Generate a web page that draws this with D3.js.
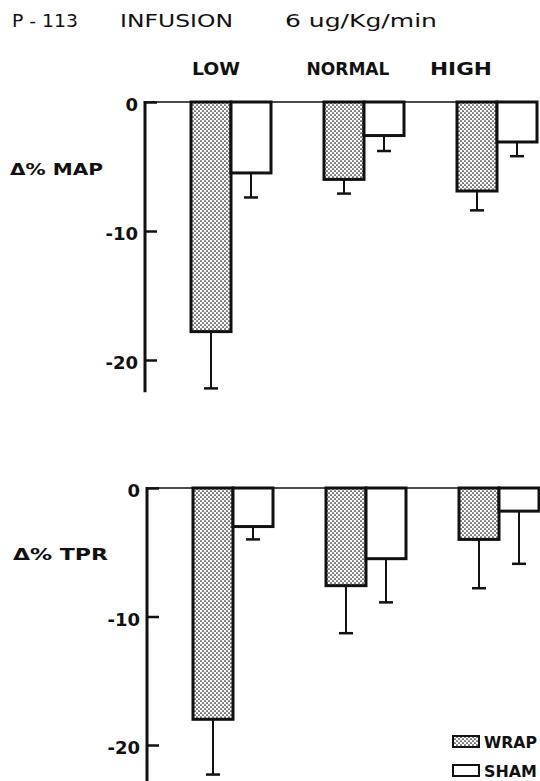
<!DOCTYPE html>
<html>
<head>
<meta charset="utf-8">
<script src="https://cdn.jsdelivr.net/npm/d3@7/dist/d3.min.js"></script>
<style>
  html, body { margin: 0; padding: 0; background: #fff; }
  svg { display: block; }
  text { font-family: "DejaVu Sans", Verdana, sans-serif; fill: #111; }
</style>
</head>
<body>
<svg id="chart" width="540" height="781"></svg>
<script>
// Conditions and groups
const categories = ["LOW", "NORMAL", "HIGH"];
const groups = ["WRAP", "SHAM"];
const yTicks = [0, -10, -20];

// Δ% mean arterial pressure (mean and SE)
const mapWrap = [-17.8, -6.0, -6.9];
const mapWrapSE = [4.4, 1.1, 1.5];
const mapSham = [-5.5, -2.6, -3.1];
const mapShamSE = [1.9, 1.2, 1.1];

// Δ% total peripheral resistance (mean and SE)
const tprWrap = [-18.0, -7.6, -4.0];
const tprWrapSE = [4.3, 3.7, 3.8];
const tprSham = [-3.0, -5.5, -1.8];
const tprShamSE = [1.0, 3.4, 4.1];

const svg = d3.select("#chart");

// Lettering is wide; stretch each label horizontally to its set width.
function wideText(parent, str, x, y, width, opts = {}) {
  const g = parent.append("g");
  const t = g.append("text")
    .attr("x", 0).attr("y", 0)
    .attr("font-size", opts.size || 16)
    .attr("font-weight", opts.weight || "normal")
    .text(str);
  const w0 = t.node().getComputedTextLength();
  const sx = width / w0;
  const left = opts.anchor === "middle" ? x - width / 2 : x;
  g.attr("transform", `translate(${left},${y}) scale(${sx},1)`);
  return g;
}

// stippled fill used for WRAP bars
const defs = svg.append("defs");
const pat = defs.append("pattern")
  .attr("id", "stipple")
  .attr("patternUnits", "userSpaceOnUse")
  .attr("width", 4).attr("height", 4);
pat.append("rect").attr("width", 4).attr("height", 4).attr("fill", "#fff");
pat.append("circle").attr("cx", 1).attr("cy", 1).attr("r", 0.85).attr("fill", "#111");
pat.append("circle").attr("cx", 3).attr("cy", 3).attr("r", 0.85).attr("fill", "#111");

// title
const title = svg.append("g").attr("class", "title");
[["P - 113", 12, 66], ["INFUSION", 120, 113], ["6 ug/Kg/min", 285, 152]].forEach(([t, x, w]) => {
  wideText(title, t, x, 27, w, { size: 18.5 });
});

// condition labels
const catLabelCenter = { LOW: 216, NORMAL: 348, HIGH: 461 };
const catLabelWidth = { LOW: 48, NORMAL: 83, HIGH: 62 };
const catG = svg.append("g");
categories.forEach(c => {
  wideText(catG, c, catLabelCenter[c], 75, catLabelWidth[c], { size: 17, weight: "bold", anchor: "middle" });
});

function panel(cfg) {
  const g = svg.append("g");
  const y = d3.scaleLinear().domain([0, -20]).range([cfg.y0, cfg.y20]);
  const x = d3.scaleBand().domain(categories).range([cfg.xStart, cfg.xStart + 3 * 133]);
  const xs = d3.scaleBand().domain(groups).range([0, 80]);

  const rows = categories.map((c, i) => [
    { cat: c, grp: "WRAP", v: cfg.wrap[i], se: cfg.wrapSE[i] },
    { cat: c, grp: "SHAM", v: cfg.sham[i], se: cfg.shamSE[i] }
  ]).flat();

  // error bars (drawn below the bars)
  const eb = g.append("g").attr("stroke", "#111").attr("stroke-width", 2);
  rows.forEach(d => {
    const cx = x(d.cat) + xs(d.grp) + xs.bandwidth() / 2;
    eb.append("line")
      .attr("x1", cx).attr("x2", cx)
      .attr("y1", y(d.v)).attr("y2", y(d.v - d.se));
    eb.append("line")
      .attr("x1", cx - 7).attr("x2", cx + 7)
      .attr("y1", y(d.v - d.se)).attr("y2", y(d.v - d.se))
      .attr("stroke-width", 2.5);
  });

  // bars
  g.append("g").selectAll("rect").data(rows).join("rect")
    .attr("x", d => x(d.cat) + xs(d.grp))
    .attr("y", y(0))
    .attr("width", xs.bandwidth())
    .attr("height", d => y(d.v) - y(0))
    .attr("fill", d => d.grp === "WRAP" ? "url(#stipple)" : "#fff")
    .attr("stroke", "#111")
    .attr("stroke-width", 3);

  // zero reference line
  g.append("line")
    .attr("x1", cfg.axisX).attr("x2", cfg.zeroEnd)
    .attr("y1", y(0)).attr("y2", y(0))
    .attr("stroke", "#111").attr("stroke-width", 1.6);

  // y axis with inward ticks
  const axis = d3.axisRight(y).tickValues(yTicks).tickSize(12).tickFormat("");
  const ag = g.append("g").attr("transform", `translate(${cfg.axisX},0)`).call(axis);
  ag.select(".domain").remove();
  ag.selectAll(".tick line").attr("stroke", "#111").attr("stroke-width", 2.5);
  g.append("line")
    .attr("x1", cfg.axisX).attr("x2", cfg.axisX)
    .attr("y1", y(0) - 1).attr("y2", y(cfg.axisBottom))
    .attr("stroke", "#111").attr("stroke-width", 3);

  // tick labels
  g.append("g").selectAll("text").data(yTicks).join("text")
    .attr("x", cfg.axisX - 7)
    .attr("y", d => y(d) + 3)
    .attr("dy", "0.35em")
    .attr("text-anchor", "end")
    .attr("font-size", 18)
    .attr("font-weight", "bold")
    .text(d => String(d));

  // measure label
  wideText(g, cfg.label, cfg.labelX, cfg.labelY, cfg.labelW, { size: 16, weight: "bold" });
}

panel({
  wrap: mapWrap, wrapSE: mapWrapSE, sham: mapSham, shamSE: mapShamSE,
  y0: 102, y20: 360, xStart: 191, axisX: 145, zeroEnd: 536, axisBottom: -22.5,
  label: "Δ% MAP", labelX: 10, labelY: 175, labelW: 93
});

panel({
  wrap: tprWrap, wrapSE: tprWrapSE, sham: tprSham, shamSE: tprShamSE,
  y0: 488, y20: 745, xStart: 193, axisX: 147, zeroEnd: 539, axisBottom: -23,
  label: "Δ% TPR", labelX: 13, labelY: 560, labelW: 95
});

// legend
const lg = svg.append("g");
const legendRows = [
  { name: "WRAP", fill: "url(#stipple)", y: 736 },
  { name: "SHAM", fill: "#fff", y: 765 }
];
legendRows.forEach(d => {
  lg.append("rect")
    .attr("x", 453).attr("y", d.y)
    .attr("width", 26).attr("height", 11)
    .attr("fill", d.fill)
    .attr("stroke", "#111").attr("stroke-width", 2);
  wideText(lg, d.name, 484, d.y + 12, 53, { size: 16, weight: "bold" });
});
</script>
</body>
</html>
